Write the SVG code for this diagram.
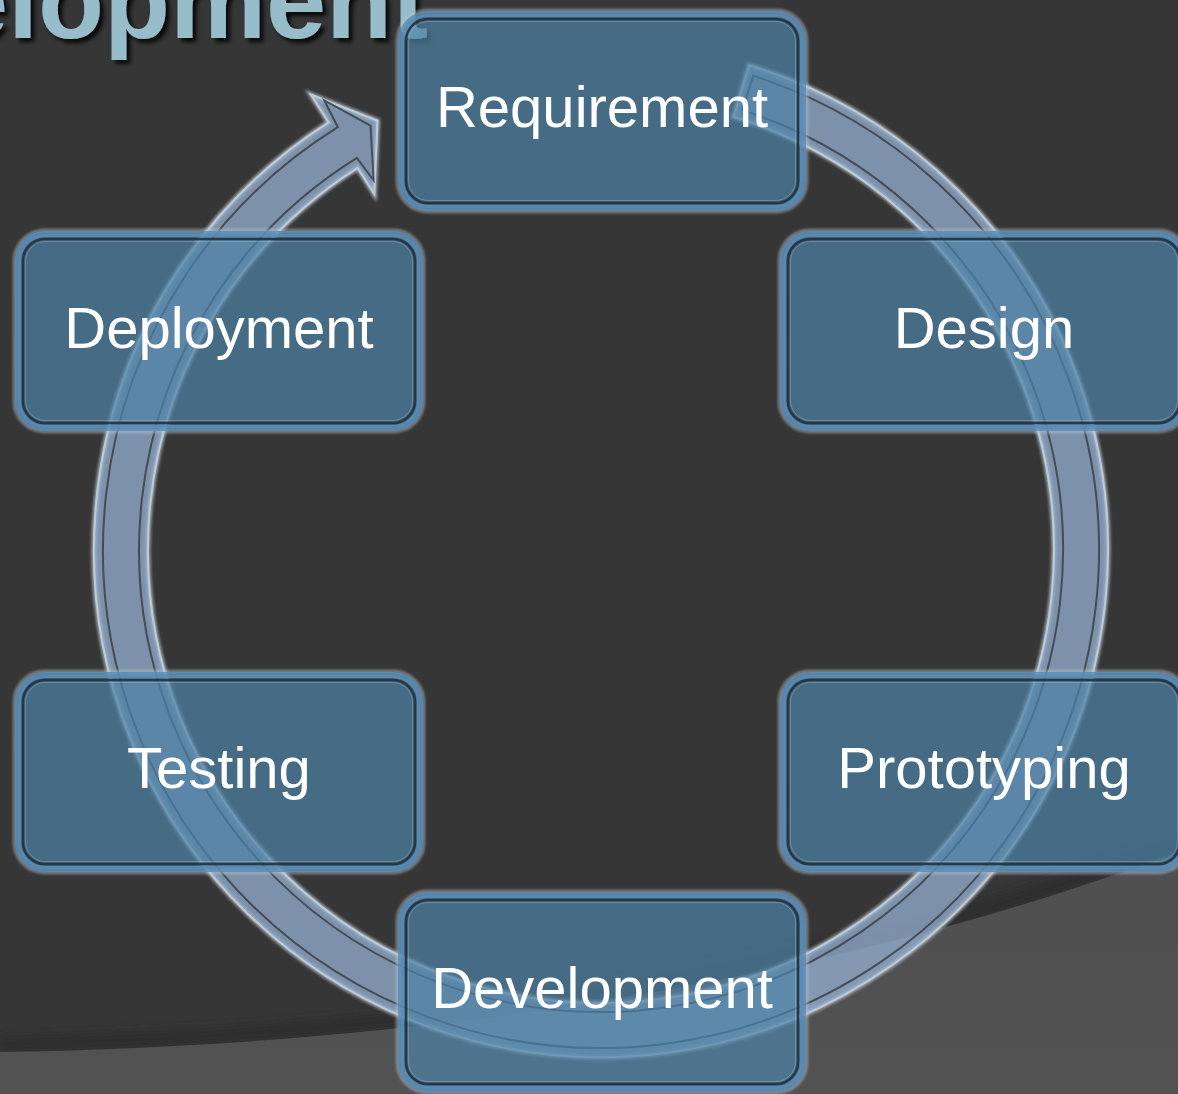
<svg xmlns="http://www.w3.org/2000/svg" width="1178" height="1094" viewBox="0 0 1178 1094">
<defs>
  <filter id="ts" x="-10%" y="-50%" width="120%" height="200%">
    <feDropShadow dx="4" dy="4" stdDeviation="2" flood-color="#000" flood-opacity="0.85"/>
  </filter>
  <filter id="soft" x="-5%" y="-5%" width="110%" height="110%">
    <feGaussianBlur stdDeviation="1.6"/>
  </filter>
  <filter id="shade" x="-5%" y="-50%" width="110%" height="200%">
    <feGaussianBlur stdDeviation="6"/>
  </filter>
  <linearGradient id="lowbg" x1="0" y1="0" x2="0" y2="1">
    <stop offset="0" stop-color="#4f4f4f"/>
    <stop offset="1" stop-color="#525252"/>
  </linearGradient>
</defs>
<style>
  .lbl { font-family: "Liberation Sans", Arial, sans-serif; font-size: 58px; fill: #ffffff; text-anchor: middle; }
  .title { font-family: "Liberation Sans", Arial, sans-serif; font-weight: bold; font-size: 108px; fill: #97bdca; }
  .glow { fill: none; stroke: #b8c2ca; stroke-width: 2.5; opacity: 0.75; }
  .body { fill: rgb(77,129,166); fill-opacity: 0.7; stroke: rgb(92,142,184); stroke-width: 6; stroke-opacity: 0.85; }
  .dark { fill: none; stroke: #24313b; stroke-width: 2.5; opacity: 0.9; }
  .hl { fill: none; stroke: #a8c2d6; stroke-width: 1; opacity: 0.35; }
  .band-glow { fill: none; stroke: #c9d4de; stroke-width: 5; opacity: 0.7; }
  .band { fill: rgb(150,178,210); fill-opacity: 0.75; stroke: #c3cfda; stroke-width: 2; stroke-opacity: 0.9; }
  .band-line { fill: none; stroke: #3a3f47; stroke-width: 2; opacity: 0.85; }
</style>

<!-- background -->
<rect x="0" y="0" width="1178" height="1094" fill="#363636"/>
<path d="M0,1052 C450,1045 850,975 1178,852" fill="none" stroke="#262626" stroke-width="14" opacity="0.6" filter="url(#shade)" transform="translate(0,-8)"/>
<path d="M0,1052 C450,1045 850,975 1178,852 L1178,1094 L0,1094 Z" fill="url(#lowbg)"/>

<!-- title fragment -->
<text class="title" x="-52" y="38" filter="url(#ts)">elopment</text>

<!-- connector: circular arrow -->
<g id="connectors">
  <path class="band-glow" filter="url(#soft)" d="M749.2,65.2 A507,507 0 1 1 328.6,122.4 L310.9,94.6 L377.5,120.7 L374.3,194.1 L357.6,167.9 A453,453 0 1 0 733.4,116.8 Z"/>
  <path class="band" d="M749.2,65.2 A507,507 0 1 1 328.6,122.4 L310.9,94.6 L377.5,120.7 L374.3,194.1 L357.6,167.9 A453,453 0 1 0 733.4,116.8 Z"/>
  <path class="band-line" d="M753.2,75.8 A498,498 0 1 1 337.8,127.2 L324.3,100.3 L370.5,125.5 L373.6,180.3 L356.9,157.8 A462,462 0 1 0 742.2,110.1 Z"/>
</g>

<!-- nodes -->
<g id="node-requirement" transform="translate(397,10)">
  <rect class="glow" filter="url(#soft)" x="0.5" y="0.5" width="409" height="201" rx="30"/>
  <rect class="body" x="4" y="4" width="402" height="194" rx="27"/>
  <rect class="dark" x="9" y="9" width="392" height="184" rx="22"/>
  <rect class="hl" x="11.5" y="11.5" width="387" height="179" rx="20"/>
  <text class="lbl" x="205" y="117">Requirement</text>
</g>
<g id="node-design" transform="translate(779,230)">
  <rect class="glow" filter="url(#soft)" x="0.5" y="0.5" width="409" height="201" rx="30"/>
  <rect class="body" x="4" y="4" width="402" height="194" rx="27"/>
  <rect class="dark" x="9" y="9" width="392" height="184" rx="22"/>
  <rect class="hl" x="11.5" y="11.5" width="387" height="179" rx="20"/>
  <text class="lbl" x="205" y="118">Design</text>
</g>
<g id="node-prototyping" transform="translate(779,671)">
  <rect class="glow" filter="url(#soft)" x="0.5" y="0.5" width="409" height="201" rx="30"/>
  <rect class="body" x="4" y="4" width="402" height="194" rx="27"/>
  <rect class="dark" x="9" y="9" width="392" height="184" rx="22"/>
  <rect class="hl" x="11.5" y="11.5" width="387" height="179" rx="20"/>
  <text class="lbl" x="205" y="117">Prototyping</text>
</g>
<g id="node-development" transform="translate(397,891)">
  <rect class="glow" filter="url(#soft)" x="0.5" y="0.5" width="409" height="201" rx="30"/>
  <rect class="body" x="4" y="4" width="402" height="194" rx="27"/>
  <rect class="dark" x="9" y="9" width="392" height="184" rx="22"/>
  <rect class="hl" x="11.5" y="11.5" width="387" height="179" rx="20"/>
  <text class="lbl" x="205" y="117">Development</text>
</g>
<g id="node-testing" transform="translate(14,671)">
  <rect class="glow" filter="url(#soft)" x="0.5" y="0.5" width="409" height="201" rx="30"/>
  <rect class="body" x="4" y="4" width="402" height="194" rx="27"/>
  <rect class="dark" x="9" y="9" width="392" height="184" rx="22"/>
  <rect class="hl" x="11.5" y="11.5" width="387" height="179" rx="20"/>
  <text class="lbl" x="205" y="117">Testing</text>
</g>
<g id="node-deployment" transform="translate(14,230)">
  <rect class="glow" filter="url(#soft)" x="0.5" y="0.5" width="409" height="201" rx="30"/>
  <rect class="body" x="4" y="4" width="402" height="194" rx="27"/>
  <rect class="dark" x="9" y="9" width="392" height="184" rx="22"/>
  <rect class="hl" x="11.5" y="11.5" width="387" height="179" rx="20"/>
  <text class="lbl" x="205" y="118">Deployment</text>
</g>
</svg>
